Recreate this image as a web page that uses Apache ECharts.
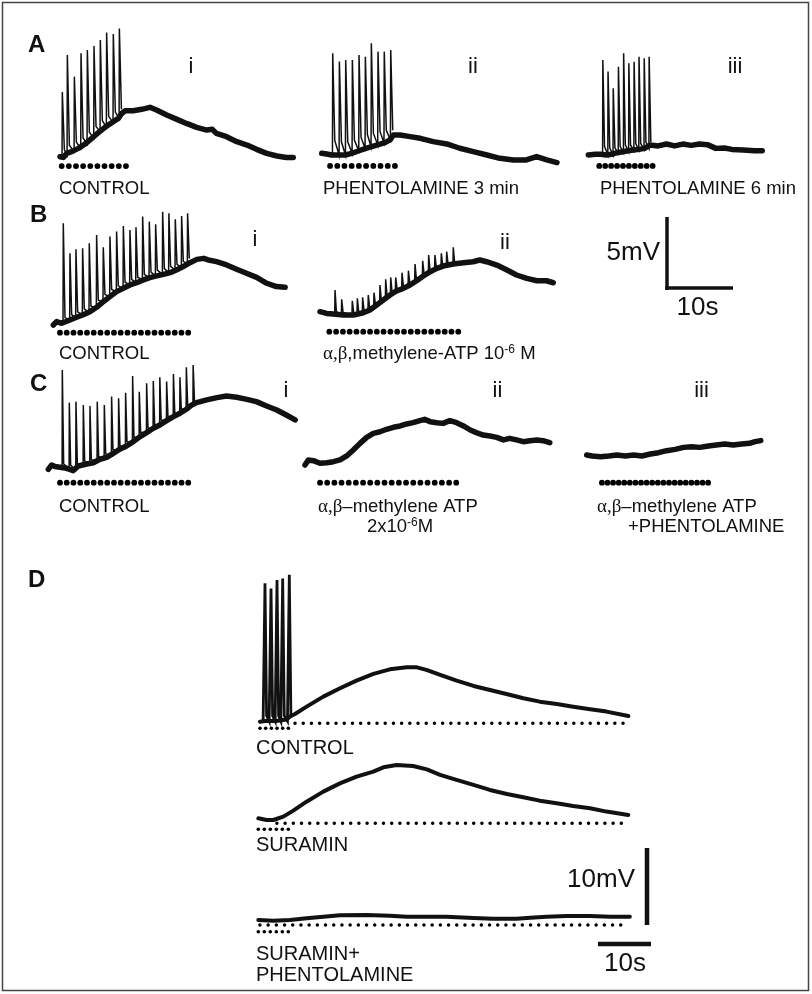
<!DOCTYPE html>
<html>
<head>
<meta charset="utf-8">
<script src="https://cdn.jsdelivr.net/npm/echarts@6/dist/echarts.min.js"></script>
<style>
    html, body { margin: 0; padding: 0; background: #fff; }
    #main { width: 812px; height: 994px; }
</style>
</head>
<body>
<div id="main"></div>
<script>
// ---- data: time (s), membrane potential (mV) ----
// spikes rows: [time, foot, peak, tail]

// A i  CONTROL
var slowA1 = [[0, 0], [0.49, -0.05], [0.98, 0.23], [1.72, 0.35], [2.7, 0.58], [3.68, 0.88], [4.66, 1.27], [5.64, 1.67], [6.62, 2.04], [7.6, 2.36], [8.58, 2.66], [9.07, 3.0], [9.56, 3.19], [10.78, 3.19], [12.0, 3.29], [13.24, 3.43], [14.2, 3.24], [15.7, 2.89], [17.2, 2.59], [18.6, 2.31], [20.1, 2.04], [21.6, 1.85], [22.4, 1.9], [23.0, 1.62], [24.5, 1.39], [26.0, 1.04], [27.5, 0.81], [28.9, 0.51], [30.4, 0.23], [31.9, 0.05], [33.3, -0.05], [34.3, -0.05]];
var spikesA1 = [[0.34, 0, 4.5, 0.5], [1.08, 0.12, 7.06, 0.8], [2.11, 0.35, 5.56, 1.0], [3.09, 0.58, 7.18, 1.3], [4.02, 0.88, 7.41, 1.7], [5.0, 1.27, 7.69, 2.1], [5.93, 1.74, 8.1, 2.5], [6.86, 2.04, 8.63, 2.8], [7.84, 2.36, 8.52, 3.1], [8.73, 2.66, 8.91, 3.3]];
var stimA1 = [0.25, 1.3, 2.35, 3.4, 4.45, 5.5, 6.55, 7.6, 8.65, 9.7];

// A ii  PHENTOLAMINE 3 min
var slowA2 = [[0, 0], [0.74, -0.05], [1.47, -0.12], [2.45, -0.12], [3.43, -0.12], [4.41, 0], [5.39, 0.16], [6.37, 0.32], [7.35, 0.46], [8.33, 0.6], [9.31, 0.74], [10.05, 0.93], [10.54, 1.27], [11.52, 1.27], [13.0, 1.16], [14.5, 1.04], [16.4, 0.81], [18.4, 0.65], [20.3, 0.35], [22.3, 0.12], [24.3, -0.12], [26.2, -0.35], [28.2, -0.46], [30.1, -0.46], [31.6, -0.23], [33.1, -0.46], [34.6, -0.65]];
var spikesA2 = [[1.62, 0, 6.94, 0.9], [2.6, -0.12, 6.37, 0.8], [3.53, -0.12, 6.48, 0.8], [4.51, 0, 6.48, 0.9], [5.49, 0.19, 6.83, 1.1], [6.42, 0.35, 6.71, 1.3], [7.3, 0.46, 7.64, 1.4], [8.28, 0.58, 7.06, 1.5], [9.2, 0.74, 7.06, 1.6], [10.15, 0.93, 7.18, 1.6]];
var stimA2 = [1.23, 2.29, 3.35, 4.41, 5.47, 6.53, 7.59, 8.65, 9.71, 10.77];

// A iii  PHENTOLAMINE 6 min
var slowA3 = [[0, 0], [1.23, 0.05], [2.2, 0.05], [3.19, 0], [4.17, 0.05], [5.15, 0.16], [6.13, 0.23], [7.1, 0.3], [8.09, 0.35], [9.07, 0.39], [10.05, 0.46], [11.03, 0.69], [12.5, 0.63], [13.97, 0.76], [15.44, 0.63], [16.9, 0.76], [18.4, 0.67], [19.85, 0.76], [21.3, 0.72], [22.8, 0.46], [24.3, 0.49], [25.7, 0.39], [27.7, 0.35], [29.7, 0.3], [31.1, 0.3]];
var spikesA3 = [[2.6, 0.12, 6.6, 0.6], [3.53, 0, 5.79, 0.5], [4.46, 0, 4.63, 0.5], [5.39, 0.12, 6.13, 0.6], [6.32, 0.16, 7.06, 0.7], [7.25, 0.23, 6.37, 0.7], [8.19, 0.3, 6.48, 0.8], [9.07, 0.35, 6.83, 0.8], [10.0, 0.39, 6.71, 0.9], [10.88, 0.46, 6.83, 0.9]];
var stimA3 = [1.96, 3.02, 4.08, 5.14, 6.2, 7.26, 8.32, 9.38, 10.44, 11.5];

// B i  CONTROL
var slowB1 = [[0, -0.12], [0.49, 0.12], [1.23, 0], [2.45, 0.23], [3.43, 0.42], [4.41, 0.6], [5.39, 0.81], [6.37, 1.11], [7.35, 1.5], [8.33, 1.85], [9.31, 2.2], [10.3, 2.43], [11.27, 2.66], [12.25, 2.82], [13.24, 3.01], [14.2, 3.17], [15.2, 3.29], [16.2, 3.4], [17.2, 3.52], [18.1, 3.7], [19.1, 3.94], [20.1, 4.21], [21.1, 4.44], [22.1, 4.51], [22.8, 4.4], [24.0, 4.28], [25.5, 4.05], [26.96, 3.75], [28.4, 3.47], [29.9, 3.19], [31.4, 2.78], [32.8, 2.55], [34.1, 2.5]];
var spikesB1 = [[1.47, 0.05, 6.94, 0.4], [2.45, 0.23, 4.86, 0.6], [3.33, 0.39, 5.14, 0.8], [4.31, 0.58, 5.21, 1.0], [5.29, 0.74, 5.56, 1.2], [6.37, 1.04, 6.13, 1.6], [7.35, 1.5, 5.28, 2.0], [8.33, 1.85, 6.02, 2.35], [9.31, 2.2, 6.37, 2.6], [10.3, 2.43, 6.76, 2.85], [11.27, 2.66, 6.48, 3.05], [12.16, 2.82, 6.67, 3.2], [13.14, 3.01, 7.41, 3.4], [14.12, 3.17, 7.06, 3.55], [15.05, 3.29, 6.88, 3.7], [16.08, 3.4, 7.75, 3.8], [17.0, 3.52, 7.64, 3.95], [17.94, 3.7, 7.22, 4.1], [18.87, 3.89, 7.45, 4.3], [19.75, 4.12, 7.64, 4.5]];
var stimB1 = [0.98, 1.97, 2.97, 3.96, 4.95, 5.94, 6.94, 7.93, 8.92, 9.91, 10.91, 11.9, 12.89, 13.89, 14.88, 15.87, 16.86, 17.86, 18.85, 19.84];

// B ii  alpha,beta-methylene-ATP 1e-6 M
var slowB2 = [[0, 0], [0.98, -0.12], [1.96, -0.16], [3.43, -0.23], [4.9, -0.23], [6.37, -0.07], [7.35, 0.12], [8.33, 0.46], [9.31, 0.81], [10.3, 1.16], [11.27, 1.44], [12.25, 1.62], [13.24, 1.85], [14.2, 2.15], [15.2, 2.48], [16.2, 2.78], [17.2, 3.01], [18.1, 3.17], [19.6, 3.31], [21.1, 3.4], [22.5, 3.47], [23.5, 3.59], [24.5, 3.47], [26.0, 3.24], [27.5, 2.89], [28.9, 2.55], [30.4, 2.31], [31.9, 2.15], [33.3, 2.15], [34.3, 2.01]];
var spikesB2 = [[2.21, -0.16, 1.5, 0.0], [3.19, -0.2, 0.86, -0.05], [4.75, -0.23, 0.76, -0.05], [5.49, -0.2, 0.93, 0.0], [6.27, -0.1, 1.0, 0.1], [7.1, 0.1, 1.16, 0.3], [7.94, 0.35, 1.32, 0.55], [8.82, 0.55, 1.85, 0.8], [9.66, 0.85, 2.25, 1.1], [10.4, 1.1, 2.38, 1.35], [11.13, 1.4, 2.38, 1.6], [12.06, 1.6, 2.71, 1.8], [13.0, 1.8, 2.85, 2.0], [13.97, 2.05, 3.31, 2.3], [15.1, 2.4, 3.54, 2.65], [15.98, 2.7, 3.94, 2.9], [16.9, 2.95, 3.94, 3.1], [17.84, 3.1, 4.05, 3.25], [18.63, 3.2, 4.17, 3.3], [19.6, 3.3, 4.47, 3.4]];
var stimB2 = [1.37, 2.37, 3.37, 4.36, 5.36, 6.36, 7.36, 8.36, 9.35, 10.35, 11.35, 12.35, 13.35, 14.34, 15.34, 16.34, 17.34, 18.34, 19.33, 20.33];

// C i  CONTROL
var slowC1 = [[0, -0.07], [0.49, 0.23], [0.98, 0.12], [1.72, 0.07], [2.7, 0], [3.68, -0.16], [4.41, 0.16], [5.64, 0.3], [6.62, 0.39], [7.6, 0.63], [8.58, 0.76], [9.56, 1.04], [10.5, 1.32], [11.5, 1.55], [12.5, 1.85], [13.5, 2.2], [14.46, 2.48], [15.44, 2.78], [16.4, 3.01], [17.4, 3.31], [18.4, 3.59], [19.36, 3.82], [20.3, 4.1], [21.1, 4.4], [21.8, 4.56], [23.3, 4.75], [24.8, 4.91], [26.2, 5.02], [27.7, 4.93], [29.2, 4.79], [30.6, 4.63], [32.1, 4.33], [33.6, 4.05], [35.0, 3.7], [36.3, 3.36]];
var spikesC1 = [[2.06, 0.05, 6.83, 0.3], [3.09, 0, 4.56, 0.2], [4.07, -0.1, 4.63, 0.3], [5.15, 0.25, 4.4, 0.5], [6.13, 0.35, 4.33, 0.6], [7.2, 0.5, 4.63, 0.8], [8.24, 0.72, 4.4, 1.0], [9.31, 0.95, 4.98, 1.3], [10.34, 1.25, 4.86, 1.55], [11.37, 1.5, 5.25, 1.85], [12.4, 1.8, 6.41, 2.15], [13.38, 2.15, 5.32, 2.5], [14.46, 2.48, 5.9, 2.8], [15.44, 2.78, 6.06, 3.05], [16.4, 3.01, 6.32, 3.35], [17.4, 3.31, 6.02, 3.6], [18.4, 3.59, 6.55, 3.85], [19.36, 3.82, 6.32, 4.1], [20.3, 4.1, 7.01, 4.4], [21.3, 4.45, 7.18, 4.65]];
var stimC1 = [1.72, 2.71, 3.7, 4.7, 5.69, 6.68, 7.68, 8.67, 9.66, 10.65, 11.65, 12.64, 13.63, 14.63, 15.62, 16.61, 17.6, 18.6, 19.59, 20.58];

// C ii  alpha,beta-methylene ATP 2e-6 M
var slowC2 = [[0, 0], [0.49, 0.35], [1.23, 0.3], [2.2, 0.12], [3.19, 0.16], [4.17, 0.23], [5.15, 0.35], [6.13, 0.63], [7.1, 1.04], [8.09, 1.5], [9.07, 1.92], [10.05, 2.2], [11.03, 2.31], [12.0, 2.48], [13.0, 2.62], [14.0, 2.71], [14.95, 2.85], [15.9, 2.94], [16.9, 3.08], [17.6, 3.17], [18.4, 3.01], [19.4, 2.94], [20.3, 2.89], [21.3, 3.08], [22.3, 2.94], [23.3, 2.71], [24.3, 2.43], [25.2, 2.25], [26.2, 2.08], [27.2, 2.01], [28.2, 1.92], [29.2, 1.74], [30.1, 1.85], [31.1, 1.74], [32.1, 1.62], [33.1, 1.69], [34.1, 1.74], [35.0, 1.69], [36.0, 1.55]];
var stimC2 = [2.21, 3.26, 4.32, 5.37, 6.43, 7.48, 8.54, 9.59, 10.64, 11.7, 12.75, 13.81, 14.86, 15.92, 16.97, 18.02, 19.08, 20.13, 21.19, 22.24];

// C iii  alpha,beta-methylene ATP + PHENTOLAMINE
var slowC3 = [[0, 0], [0.98, -0.07], [2.45, -0.12], [3.92, -0.07], [5.39, 0], [6.86, -0.07], [8.33, 0], [9.8, -0.07], [11.3, 0.07], [12.75, 0.16], [14.2, 0.3], [15.7, 0.39], [17.2, 0.53], [18.6, 0.58], [20.1, 0.53], [21.6, 0.63], [23.0, 0.69], [24.5, 0.76], [26.0, 0.69], [27.5, 0.76], [28.9, 0.81], [29.9, 0.93], [30.9, 1.0]];
var stimC3 = [2.7, 3.69, 4.68, 5.68, 6.67, 7.66, 8.66, 9.65, 10.64, 11.63, 12.63, 13.62, 14.61, 15.61, 16.6, 17.59, 18.59, 19.58, 20.57, 21.56];

// D  CONTROL
var slowD1 = [[0, 0.2], [1, 0.3], [2, 0.3], [3, 0.3], [4, 0.4], [5, 0.5], [5.66, 0.87], [5.97, 1.08], [6.6, 1.21], [8.8, 2.16], [11.95, 3.46], [15.1, 4.55], [18.2, 5.54], [21.4, 6.41], [24.5, 7.01], [27.7, 7.27], [29.6, 7.27], [31.4, 6.93], [34.0, 6.28], [37.1, 5.54], [40.3, 4.85], [43.4, 4.33], [46.5, 3.81], [49.7, 3.25], [52.8, 2.81], [56.0, 2.51], [59.1, 2.16], [62.3, 1.82], [65.4, 1.52], [69.5, 0.95]];
var spikesD1 = [[0.94, 0.3, 18.2, 1.0], [2.08, 0.3, 17.5, 1.0], [3.21, 0.3, 18.6, 1.0], [4.28, 0.3, 18.8, 1.0], [5.53, 0.3, 19.3, 1.0]];
var stimD1 = [0, 1.07, 2.14, 3.21, 4.28, 5.35];
var zeroD1 = [6.6, 69.2];

// D  SURAMIN
var slowD2 = [[0, 0.65], [1.57, 0.43], [2.83, 0.43], [4.72, 0.87], [6.6, 1.65], [9.1, 2.81], [12.26, 4.11], [15.4, 5.19], [18.55, 6.06], [21.7, 6.71], [23.6, 7.27], [26.1, 7.58], [29.2, 7.45], [31.8, 7.01], [34.3, 6.28], [37.4, 5.63], [40.6, 4.98], [43.7, 4.33], [46.9, 3.81], [50.0, 3.38], [53.1, 2.94], [56.3, 2.6], [59.4, 2.25], [62.6, 1.95], [65.7, 1.52], [69.8, 1.08]];
var stimD2 = [0, 1.13, 2.26, 3.4, 4.53, 5.66];
var zeroD2 = [3.5, 69.5];

// D  SURAMIN + PHENTOLAMINE
var slowD3 = [[0, 0.65], [2.83, 0.56], [5.97, 0.65], [9.1, 0.87], [12.26, 1.08], [15.4, 1.26], [20.4, 1.3], [24.8, 1.21], [28.0, 1.08], [31.8, 1.08], [35.5, 1.08], [40.6, 0.91], [44.3, 0.82], [48.7, 0.82], [51.3, 0.95], [54.4, 1.08], [58.2, 1.17], [62.6, 1.17], [66.4, 1.08], [70.1, 1.08]];
var stimD3 = [0, 1.13, 2.26, 3.4, 4.53, 5.66];
var zeroD3 = [0.3, 69.2];

// ---- layout: where t=0 / 0 mV sits on the page, and the scale of each panel ----
var SX_ABC = 6.8, SY_ABC = 14.4;   // px per s, px per mV (10 s / 5 mV bars)
var SX_D = 5.3, SY_D = 7.7;        // (10 s / 10 mV bars)

var panels = [
    { x0: 60, y0: 156.7, sx: SX_ABC, sy: SY_ABC, slow: slowA1, spikes: spikesA1, stim: stimA1, stimV: -0.65, rise: 0.04, fall: 0.3 },
    { x0: 321.7, y0: 153.3, sx: SX_ABC, sy: SY_ABC, slow: slowA2, spikes: spikesA2, stim: stimA2, stimV: -0.88, rise: 0.04, fall: 0.3 },
    { x0: 588.3, y0: 155, sx: SX_ABC, sy: SY_ABC, slow: slowA3, spikes: spikesA3, stim: stimA3, stimV: -0.76, rise: 0.04, fall: 0.3 },
    { x0: 53.3, y0: 323.3, sx: SX_ABC, sy: SY_ABC, slow: slowB1, spikes: spikesB1, stim: stimB1, stimV: -0.65, rise: 0.04, fall: 0.25 },
    { x0: 320, y0: 311.7, sx: SX_ABC, sy: SY_ABC, slow: slowB2, spikes: spikesB2, stim: stimB2, stimV: -1.39, rise: 0.05, fall: 0.2 },
    { x0: 48.3, y0: 468.3, sx: SX_ABC, sy: SY_ABC, slow: slowC1, spikes: spikesC1, stim: stimC1, stimV: -1.0, rise: 0.03, fall: 0.2 },
    { x0: 305, y0: 465, sx: SX_ABC, sy: SY_ABC, slow: slowC2, stim: stimC2, stimV: -1.23 },
    { x0: 586.7, y0: 455, sx: SX_ABC, sy: SY_ABC, slow: slowC3, stim: stimC3, stimV: -1.92 },
    { x0: 260, y0: 723.3, sx: SX_D, sy: SY_D, slow: slowD1, spikes: spikesD1, stim: stimD1, stimV: -0.65, zero: zeroD1, rise: 0.35, fall: 0.3, d: true },
    { x0: 258.3, y0: 823.3, sx: SX_D, sy: SY_D, slow: slowD2, stim: stimD2, stimV: -0.78, zero: zeroD2, d: true },
    { x0: 258.3, y0: 925, sx: SX_D, sy: SY_D, slow: slowD3, stim: stimD3, stimV: -0.87, zero: zeroD3, d: true }
];

var grids = [], xAxes = [], yAxes = [], series = [];
panels.forEach(function (p, i) {
    var tMax = p.d ? 75 : 40, vMin = -3, vMax = p.d ? 21 : 9.5;
    grids.push({ left: p.x0, top: p.y0 - vMax * p.sy, width: tMax * p.sx, height: (vMax - vMin) * p.sy, show: false });
    xAxes.push({ type: 'value', gridIndex: i, min: 0, max: tMax, show: false });
    yAxes.push({ type: 'value', gridIndex: i, min: vMin, max: vMax, show: false });

    if (p.zero) {
        series.push({
            type: 'line', xAxisIndex: i, yAxisIndex: i, symbol: 'none', clip: false, silent: true,
            data: [[p.zero[0], 0], [p.zero[1], 0]],
            lineStyle: { color: '#000', width: 3.4, type: [0.1, 8.1], cap: 'round', opacity: 1 }
        });
    }
    if (p.spikes) {
        var pts = [];
        p.spikes.forEach(function (s) {
            pts.push([s[0] - p.rise, s[1]], [s[0], s[2]], [s[0] + p.fall, s[3]]);
        });
        series.push({
            type: 'line', xAxisIndex: i, yAxisIndex: i, symbol: 'none', clip: false, silent: true,
            data: pts,
            lineStyle: { color: '#111', width: p.d ? 2.8 : 1.5, join: 'miter' }
        });
    }
    series.push({
        type: 'line', xAxisIndex: i, yAxisIndex: i, symbol: 'none', clip: false, silent: true,
        data: p.slow,
        lineStyle: { color: '#111', width: p.d ? 4 : 5.5, join: 'round', cap: 'round' }
    });
    series.push({
        type: 'scatter', xAxisIndex: i, yAxisIndex: i, clip: false, silent: true,
        data: p.stim.map(function (t) { return [t, p.stimV]; }),
        symbol: 'circle', symbolSize: p.d ? 3.6 : 5.8,
        itemStyle: { color: '#000', opacity: 1 }
    });
});

// ---- text and scale bars ----
var FONT = '"Liberation Sans", Arial, sans-serif';
function txt(x, y, s, size, opts) {
    opts = opts || {};
    return {
        type: 'text', silent: true,
        style: {
            x: x, y: y, text: s, fill: '#111',
            font: (opts.bold ? 'bold ' : '') + size + 'px ' + FONT,
            textAlign: opts.align || 'left', textVerticalAlign: 'middle',
            rich: opts.rich
        }
    };
}
var capRich = {
    g: { fontFamily: '"Liberation Serif", serif', fontSize: 19, fill: '#111' },
    a: { fontFamily: FONT, fontSize: 18.5, fill: '#111' },
    s: { fontFamily: FONT, fontSize: 12, fill: '#111', verticalAlign: 'top', padding: [0, 0, 9, 0] }
};
function bar(x1, y1, x2, y2, w) {
    return { type: 'line', silent: true, shape: { x1: x1, y1: y1, x2: x2, y2: y2 }, style: { stroke: '#111', lineWidth: w } };
}

var graphics = [
    { type: 'rect', silent: true, shape: { x: 2.5, y: 2.5, width: 806, height: 988 }, style: { fill: 'none', stroke: '#444', lineWidth: 1.5 } },
    txt(28, 45, 'A', 24, { bold: true }),
    txt(30, 215.5, 'B', 24, { bold: true }),
    txt(30, 384.5, 'C', 24, { bold: true }),
    txt(28, 580, 'D', 24, { bold: true }),

    txt(191, 67, 'i', 22, { align: 'center' }),
    txt(473, 67, 'ii', 22, { align: 'center' }),
    txt(735, 67, 'iii', 22, { align: 'center' }),
    txt(255, 240, 'i', 22, { align: 'center' }),
    txt(505, 243, 'ii', 22, { align: 'center' }),
    txt(286, 391, 'i', 22, { align: 'center' }),
    txt(497.5, 391, 'ii', 22, { align: 'center' }),
    txt(701.5, 391, 'iii', 22, { align: 'center' }),

    txt(59, 188.5, 'CONTROL', 18.5),
    txt(323, 188.5, 'PHENTOLAMINE 3 min', 18.5),
    txt(600, 189, 'PHENTOLAMINE 6 min', 18.5),
    txt(59, 354, 'CONTROL', 18.5),
    txt(323, 354, '{g|α,β}{a|,methylene-ATP 10}{s|-6}{a| M}', 18.5, { rich: capRich }),
    txt(59, 507, 'CONTROL', 18.5),
    txt(318, 507, '{g|α,β}{a|–methylene ATP}', 18.5, { rich: capRich }),
    txt(367, 527, '{a|2x10}{s|-6}{a|M}', 18.5, { rich: capRich }),
    txt(597, 507, '{g|α,β}{a|–methylene ATP}', 18.5, { rich: capRich }),
    txt(628, 527, '+PHENTOLAMINE', 18.5),

    txt(256, 748.5, 'CONTROL', 20),
    txt(256, 845, 'SURAMIN', 20),
    txt(256, 954.5, 'SURAMIN+', 20),
    txt(256, 975.5, 'PHENTOLAMINE', 20),

    bar(667, 217, 667, 290, 3.5),
    bar(665.25, 288, 733, 288, 3.5),
    txt(660, 252.5, '5mV', 26, { align: 'right' }),
    txt(697.5, 307.5, '10s', 26, { align: 'center' }),

    bar(647, 848, 647, 925, 4.5),
    bar(598, 944, 651, 944, 4.5),
    txt(635, 880, '10mV', 26, { align: 'right' }),
    txt(625, 964, '10s', 26, { align: 'center' })
];

var chart = echarts.init(document.getElementById('main'));
chart.setOption({
    backgroundColor: '#fff',
    animation: false,
    grid: grids,
    xAxis: xAxes,
    yAxis: yAxes,
    series: series,
    graphic: { elements: graphics }
});
</script>
</body>
</html>
